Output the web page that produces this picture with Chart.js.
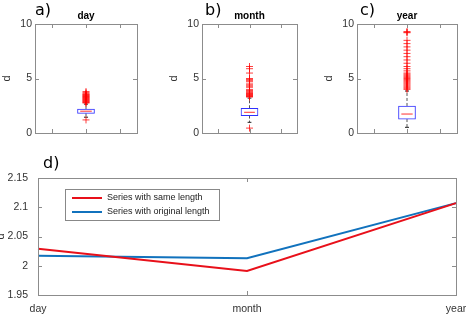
<!DOCTYPE html>
<html>
<head>
<meta charset="utf-8">
<script src="https://cdn.jsdelivr.net/npm/chart.js@4.4.1/dist/chart.umd.min.js"></script>
<style>
  html, body { margin: 0; padding: 0; background: #fff; }
  #wrap { position: relative; width: 466px; height: 327px; overflow: hidden; }
  #wrap canvas { position: absolute; left: 0; }
  .tag { position: absolute; font-family: "DejaVu Sans", sans-serif; font-size: 16px; line-height: 16px; color: #000; }
</style>
</head>
<body>
<div id="wrap">
  <canvas id="boxDay" width="466" height="145" style="top:0"></canvas>
  <canvas id="boxMonth" width="466" height="145" style="top:0"></canvas>
  <canvas id="boxYear" width="466" height="145" style="top:0"></canvas>
  <canvas id="lineChart" width="466" height="182" style="top:145px"></canvas>
  <div class="tag" style="left:35px; top:2px">a)</div>
  <div class="tag" style="left:205px; top:2px">b)</div>
  <div class="tag" style="left:360px; top:2px">c)</div>
  <div class="tag" style="left:43px; top:155px">d)</div>
</div>
<script>
// box plot panels (a-c)
const panelNames = ['day', 'month', 'year'];
const whiskerLow = [1.45, 0.98, 0.52];
const quart1 = [1.8, 1.6, 1.28];
const medians = [2.0, 1.9, 1.74];
const quart3 = [2.2, 2.27, 2.48];
const whiskerHigh = [2.65, 3.2, 3.85];
const outliersDay = [1.2, 2.75, 2.8, 2.85, 2.9, 2.95, 3.0, 3.05, 3.1, 3.15, 3.2, 3.25, 3.3, 3.35, 3.4, 3.45, 3.5, 3.55, 3.6, 3.7, 3.8];
const outliersMonth = [0.45, 3.3, 3.35, 3.4, 3.45, 3.5, 3.55, 3.6, 3.65, 3.7, 3.8, 3.9, 4.0, 4.2, 4.3, 4.4, 4.5, 4.7, 4.8, 4.9, 5.0, 5.5, 5.9, 6.1];
const outliersYear = [4.0, 4.1, 4.2, 4.3, 4.4, 4.5, 4.6, 4.7, 4.8, 4.9, 5.0, 5.1, 5.2, 5.3, 5.4, 5.5, 5.7, 5.9, 6.1, 6.4, 6.7, 7.0, 7.3, 7.6, 7.9, 8.2, 8.5, 9.2, 9.25, 9.3];
const boxTicks = [0, 5, 10];

// line panel (d)
const periods = ['day', 'month', 'year'];
const sameLength = [2.029, 1.991, 2.107];
const originalLength = [2.017, 2.013, 2.107];
const errTicks = [1.95, 2, 2.05, 2.1, 2.15];

const FONT = 'Liberation Sans';
const BOX_HALF = 0.17;  // half box width in x units
const CAP_HALF = 0.06;

// gray box round the axes, inward ticks and a title over the plot
const framePlugin = {
  id: 'frame',
  afterDraw(chart, args, opts) {
    const ctx = chart.ctx, a = chart.chartArea;
    const xs = chart.scales.x, ys = chart.scales.y;
    ctx.save();
    ctx.strokeStyle = '#8c8c8c';
    ctx.lineWidth = 1;
    ctx.strokeRect(Math.round(a.left) + 0.5, Math.round(a.top) + 0.5,
      Math.round(a.right - a.left), Math.round(a.bottom - a.top));
    ctx.beginPath();
    ys.ticks.forEach(t => {
      const p = Math.round(ys.getPixelForValue(t.value)) + 0.5;
      ctx.moveTo(a.left, p); ctx.lineTo(a.left + 4, p);
      ctx.moveTo(a.right, p); ctx.lineTo(a.right - 4, p);
    });
    xs.ticks.forEach((t, i) => {
      const p = Math.round(xs.getPixelForTick(i)) + 0.5;
      ctx.moveTo(p, a.bottom); ctx.lineTo(p, a.bottom - 4);
      ctx.moveTo(p, a.top); ctx.lineTo(p, a.top + 4);
    });
    ctx.stroke();
    if (opts.title) {
      ctx.font = 'bold 10px "' + FONT + '"';
      ctx.fillStyle = '#000';
      ctx.textAlign = 'center';
      ctx.textBaseline = 'middle';
      ctx.fillText(opts.title, (a.left + a.right) / 2, a.top - 8);
    }
    ctx.restore();
  }
};

// legend drawn inside the plot, like the matlab one
const insideLegend = {
  id: 'insideLegend',
  afterDraw(chart) {
    const ctx = chart.ctx, a = chart.chartArea;
    const x = a.left + 27, y = a.top + 11;
    ctx.save();
    ctx.fillStyle = '#fff';
    ctx.fillRect(x, y, 154, 31);
    ctx.strokeStyle = '#888';
    ctx.lineWidth = 1;
    ctx.strokeRect(x + 0.5, y + 0.5, 154, 31);
    ctx.font = '9px "' + FONT + '"';
    ctx.textBaseline = 'middle';
    chart.data.datasets.forEach((ds, i) => {
      const ly = y + 9 + i * 14;
      ctx.strokeStyle = ds.borderColor;
      ctx.lineWidth = 2;
      ctx.beginPath();
      ctx.moveTo(x + 7, ly); ctx.lineTo(x + 37, ly);
      ctx.stroke();
      ctx.fillStyle = '#222';
      ctx.fillText(ds.label, x + 42, ly);
    });
    ctx.restore();
  }
};

function boxChart(id, i, outliers, plotLeft, plotRight) {
  const c = 1;
  return new Chart(document.getElementById(id), {
    data: {
      datasets: [
        { type: 'line', data: [{x: c, y: quart3[i]}, {x: c, y: whiskerHigh[i]}],
          borderColor: '#555', borderWidth: 1, borderDash: [3, 2], pointRadius: 0, order: 5 },
        { type: 'line', data: [{x: c, y: quart1[i]}, {x: c, y: whiskerLow[i]}],
          borderColor: '#555', borderWidth: 1, borderDash: [3, 2], pointRadius: 0, order: 5 },
        { type: 'line', data: [{x: c - CAP_HALF, y: whiskerHigh[i]}, {x: c + CAP_HALF, y: whiskerHigh[i]}],
          borderColor: '#222', borderWidth: 1, pointRadius: 0, order: 4 },
        { type: 'line', data: [{x: c - CAP_HALF, y: whiskerLow[i]}, {x: c + CAP_HALF, y: whiskerLow[i]}],
          borderColor: '#222', borderWidth: 1, pointRadius: 0, order: 4 },
        { type: 'bar', data: [{x: c, y: [quart1[i], quart3[i]]}],
          backgroundColor: '#fff', borderColor: '#3030ff', borderWidth: 1,
          borderSkipped: false, barThickness: 17, order: 3 },
        { type: 'line', data: [{x: c - BOX_HALF, y: medians[i]}, {x: c + BOX_HALF, y: medians[i]}],
          borderColor: '#ff3030', borderWidth: 1, pointRadius: 0, order: 2 },
        { type: 'scatter', data: outliers.map(v => ({x: c, y: v})),
          pointStyle: 'cross', pointRadius: 3.5, borderColor: 'rgba(255,0,0,0.75)',
          borderWidth: 1, backgroundColor: 'transparent', order: 1 }
      ]
    },
    options: {
      responsive: false,
      animation: false,
      events: [],
      layout: { padding: { left: plotLeft - 35, right: 466 - plotRight, top: 24, bottom: 0 } },
      plugins: { legend: { display: false }, tooltip: { enabled: false }, frame: { title: panelNames[i] } },
      scales: {
        x: {
          type: 'linear', min: 0, max: 2,
          ticks: { display: false, stepSize: 1 },
          grid: { display: false, drawTicks: false }, border: { display: false },
          afterFit: s => { s.height = 12; s.paddingLeft = 0; s.paddingRight = 0; }
        },
        y: {
          type: 'linear', min: 0, max: 10,
          afterBuildTicks: s => { s.ticks = boxTicks.map(v => ({value: v})); },
          ticks: { font: { size: 10.5, family: FONT }, color: '#333', padding: 3 },
          grid: { display: false, drawTicks: false }, border: { display: false },
          title: { display: true, text: 'd', font: { size: 11, family: FONT }, color: '#333', padding: 0 },
          afterFit: s => { s.width = 35; s.paddingTop = 0; s.paddingBottom = 0; }
        }
      }
    },
    plugins: [framePlugin]
  });
}

boxChart('boxDay', 0, outliersDay, 35, 137);
boxChart('boxMonth', 1, outliersMonth, 202, 297);
boxChart('boxYear', 2, outliersYear, 357, 457);

new Chart(document.getElementById('lineChart'), {
  type: 'line',
  data: {
    labels: periods,
    datasets: [
      { label: 'Series with same length', data: sameLength, borderColor: '#e8101a',
        borderWidth: 2, pointRadius: 0, tension: 0 },
      { label: 'Series with original length', data: originalLength, borderColor: '#1172bd',
        borderWidth: 2, pointRadius: 0, tension: 0 }
    ]
  },
  options: {
    responsive: false,
    animation: false,
    events: [],
    layout: { padding: { left: 0, right: 10, top: 33, bottom: 0 } },
    plugins: { legend: { display: false }, tooltip: { enabled: false } },
    scales: {
      x: {
        ticks: { font: { size: 10.5, family: FONT }, color: '#333', padding: 8, autoSkip: false, maxRotation: 0 },
        grid: { display: false, drawTicks: false }, border: { display: false },
        afterFit: s => { s.height = 32; s.paddingLeft = 0; s.paddingRight = 0; }
      },
      y: {
        min: 1.95, max: 2.15,
        afterBuildTicks: s => { s.ticks = errTicks.map(v => ({value: v})); },
        ticks: { font: { size: 10.5, family: FONT }, color: '#333', padding: 10,
          callback: v => String(+v.toFixed(2)) },
        grid: { display: false, drawTicks: false }, border: { display: false },
        title: { display: true, text: 'd', font: { size: 11, family: FONT }, color: '#333', padding: { top: -6 } },
        afterFit: s => { s.width = 38; s.paddingTop = 0; s.paddingBottom = 0; }
      }
    }
  },
  plugins: [framePlugin, insideLegend]
});
</script>
</body>
</html>
